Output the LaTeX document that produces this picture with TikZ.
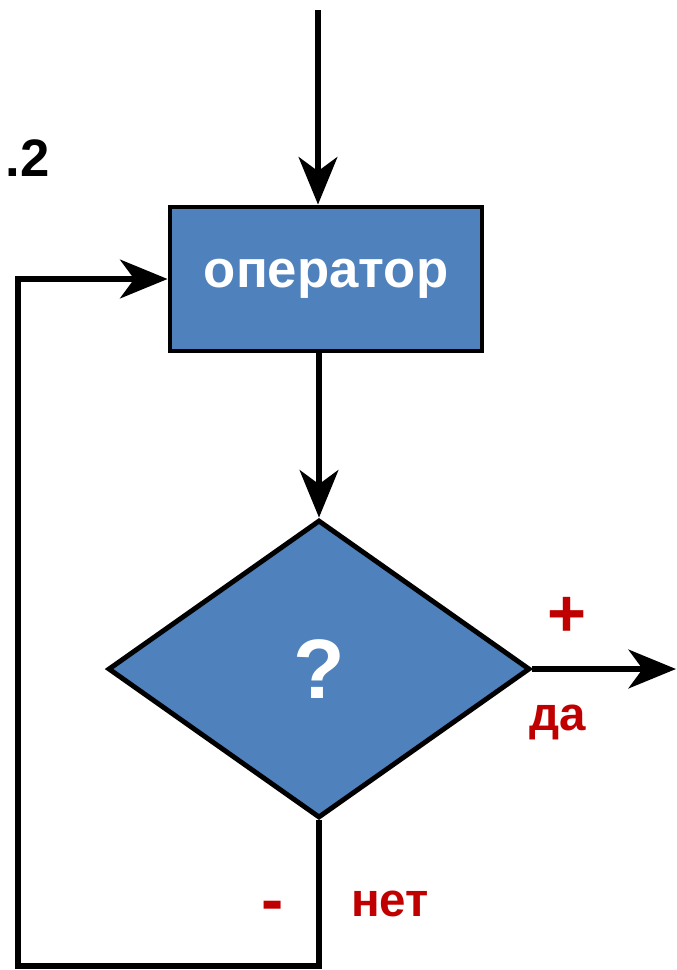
\documentclass[tikz,border=0pt]{standalone}
\usepackage{fontspec}
\setmainfont{Liberation Sans}
\usetikzlibrary{shapes.geometric,arrows.meta}
\definecolor{boxblue}{RGB}{79,129,189}
\definecolor{labelred}{RGB}{192,0,0}
\tikzstyle{block} = [rectangle, minimum width=6.24cm, minimum height=2.88cm, text centered, draw=black, fill=boxblue, line width=2.8pt, text=white, font=\fontsize{30}{34}\selectfont\bfseries]
\tikzstyle{decision} = [diamond, minimum width=8.44cm, minimum height=5.96cm, inner sep=0pt, draw=black, fill=boxblue, line width=2.8pt, text=white, font=\fontsize{48}{52}\selectfont\bfseries]
\tikzstyle{arrow} = [line width=3.4pt,-{Stealth[length=27pt,width=22pt,inset=8pt]}]
\tikzstyle{answer} = [text=labelred, font=\fontsize{27}{30}\selectfont\bfseries]
\tikzstyle{sign} = [text=labelred, font=\fontsize{38}{44}\selectfont\bfseries]

\begin{document}
\begin{tikzpicture}[x=0.02cm, y=-0.02cm]
    \useasboundingbox (0,0) rectangle (676,970);
    \node (operator) [block] at (326,279) {оператор};
    \node (check) [decision] at (319,669) {?};
    \coordinate (entry) at (318,10);
    \coordinate (exit) at (676,669);
    \coordinate (corner) at (18,966);
    \draw [arrow] (entry) -- (entry |- operator.north);
    \draw [arrow] (operator.south -| check.north) -- (check.north);
    \draw [arrow] (check.east) -- (exit);
    \draw [arrow] (check.south) |- (corner) |- (operator.west);
    \node (plus) [sign] at (567,617) {+};
    \node (yes) [answer] at (558,722) {да};
    \node (minus) [sign] at (273,912) {-};
    \node (no) [answer] at (390,904) {нет};
    \node (fig) [anchor=east, font=\fontsize{30}{34}\selectfont\bfseries] at (56,158) {.2};
\end{tikzpicture}
\end{document}
